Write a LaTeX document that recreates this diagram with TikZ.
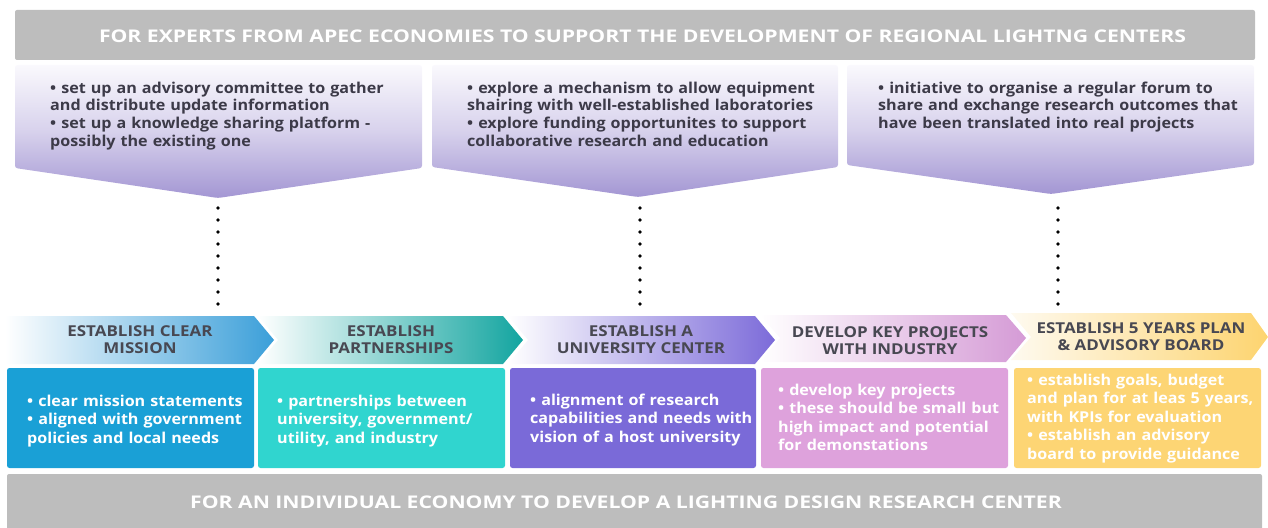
\documentclass[tikz,border=0pt]{standalone}
\usepackage{fontspec}
\setmainfont{Open Sans}[FakeStretch=1.075]
\newfontfamily\bannerfont{Open Sans}[FakeStretch=1.21]
\newfontfamily\chevfont{Open Sans}[FakeStretch=1.13]
\definecolor{bannergray}{HTML}{BDBDBD}
\definecolor{calltop}{HTML}{FAF9FD}
\definecolor{callbot}{HTML}{A396D3}
\definecolor{calltxt}{HTML}{3C3A48}
\definecolor{chevtxt}{HTML}{484852}
\definecolor{boxA}{HTML}{1AA0D6}
\definecolor{boxB}{HTML}{30D5CF}
\definecolor{boxC}{HTML}{7A6AD8}
\definecolor{boxD}{HTML}{DEA2DC}
\definecolor{boxE}{HTML}{FDD574}
\definecolor{chevA}{HTML}{3B9FD9}
\definecolor{chevB}{HTML}{13A5A0}
\definecolor{chevC}{HTML}{7C6BD9}
\definecolor{chevD}{HTML}{D59BD6}
\definecolor{chevE}{HTML}{FDD46F}
\definecolor{chevEstart}{HTML}{FEFAF0}
\begin{document}
\begin{tikzpicture}[x=1pt,y=-1pt,
  bannerbox/.style={fill=bannergray, draw=none, rounded corners=2pt},
  bannertext/.style={anchor=base, inner sep=0pt, text=white, font=\bannerfont\fontsize{17.5}{20}\selectfont\bfseries},
  callout/.style={top color=calltop, bottom color=callbot, middle color=callbot!40!calltop, draw=none, rounded corners=2.5pt},
  calltext/.style={anchor=base west, inner sep=0pt, align=left, text width=400pt, text=calltxt, font=\fontsize{15}{17.7}\selectfont\bfseries},
  chevtext/.style={anchor=center, inner sep=0pt, align=center, text=chevtxt, font=\chevfont\fontsize{15}{17}\selectfont\bfseries},
  stepbox/.style={draw=none, rounded corners=2.5pt},
  boxtext/.style={anchor=base west, inner sep=0pt, align=left, text width=240pt, text=white, font=\fontsize{15}{18.5}\selectfont\bfseries},
  dotline/.style={draw=black, line width=3.6pt, line cap=round, dash pattern=on 0pt off 12pt}
]
\useasboundingbox (0,0) rectangle (1268,527);

% top banner
\path[bannerbox] (15,10) rectangle (1255,60);
\node[bannertext] (toptitle) at (642.5,42) {FOR EXPERTS FROM APEC ECONOMIES TO SUPPORT THE DEVELOPMENT OF REGIONAL LIGHTNG CENTERS};

% callouts
\path[callout] (15,65) -- (422,65) -- (422,168) -- (218,198) -- (15,168) -- cycle;
\path[callout] (432,65) -- (838,65) -- (838,167) -- (638,197) -- (432,167) -- cycle;
\path[callout] (847,65) -- (1254,65) -- (1254,165) -- (1051,194) -- (847,165) -- cycle;

\node[calltext] (callA) at (50,93) {• set up an advisory committee to gather\\and distribute update information\\• set up a knowledge sharing platform -\\possibly the existing one};
\node[calltext] (callB) at (467,93) {• explore a mechanism to allow equipment\\shairing with well-established laboratories\\• explore funding opportunites to support\\collaborative research and education};
\node[calltext] (callC) at (878,93) {• initiative to organise a regular forum to\\share and exchange research outcomes that\\have been translated into real projects};

% dotted connectors
\coordinate (dAs) at (218,208); \coordinate (dAe) at (218,304);
\coordinate (dBs) at (640,208); \coordinate (dBe) at (640,304);
\coordinate (dCs) at (1058,208); \coordinate (dCe) at (1058,304);
\draw[dotline] (dAs) -- (dAe);
\draw[dotline] (dBs) -- (dBe);
\draw[dotline] (dCs) -- (dCe);

% chevrons
\path[left color=white, right color=chevA] (5,316) -- (254,316) -- (274,340) -- (254,364) -- (5,364) -- cycle;
\path[left color=white, right color=chevB] (258,316) -- (503,316) -- (523,340) -- (503,364) -- (258,364) -- (278,340) -- cycle;
\path[left color=white, right color=chevC] (508,316) -- (755,316) -- (775,340) -- (755,364) -- (508,364) -- (528,340) -- cycle;
\path[left color=white, right color=chevD] (760,315) -- (1006,315) -- (1026,338) -- (1006,362) -- (760,362) -- (780,338) -- cycle;
\path[left color=chevEstart, right color=chevE] (1011,313) -- (1251,313) -- (1268,337) -- (1251,360) -- (1011,360) -- (1031,337) -- cycle;

\node[chevtext] (chA) at (140,339.5) {ESTABLISH CLEAR\\MISSION};
\node[chevtext] (chB) at (391,339.5) {ESTABLISH\\PARTNERSHIPS};
\node[chevtext] (chC) at (641,339.5) {ESTABLISH A\\UNIVERSITY CENTER};
\node[chevtext] (chD) at (890,341) {DEVELOP KEY PROJECTS\\WITH INDUSTRY};
\node[chevtext] (chE) at (1141,337) {ESTABLISH 5 YEARS PLAN\\\& ADVISORY BOARD};

% boxes
\path[stepbox, fill=boxA] (7,368) rectangle (254,468);
\path[stepbox, fill=boxB] (258,368) rectangle (505,468);
\path[stepbox, fill=boxC] (510,368) rectangle (756,468);
\path[stepbox, fill=boxD] (761,368) rectangle (1008,468);
\path[stepbox, fill=boxE] (1014,368) rectangle (1261,468);

\node[boxtext] (bxA) at (27,406) {• clear mission statements\\• aligned with government\\policies and local needs};
\node[boxtext] (bxB) at (277,406) {• partnerships between\\university, government/\\utility, and industry};
\node[boxtext] (bxC) at (530,405) {• alignment of research\\capabilities and needs with\\vision of a host university};
\node[boxtext] (bxD) at (778,395) {• develop key projects\\• these should be small but\\high impact and potential\\for demonstations};
\node[boxtext] (bxE) at (1027,385) {• establish goals, budget\\and plan for at leas 5 years,\\with KPIs for evaluation\\• establish an advisory\\board to provide guidance};

% bottom banner
\path[bannerbox] (7,474) rectangle (1262,532);
\node[bannertext] (bottitle) at (626,508) {FOR AN INDIVIDUAL ECONOMY TO DEVELOP A LIGHTING DESIGN RESEARCH CENTER};
\end{tikzpicture}
\end{document}
